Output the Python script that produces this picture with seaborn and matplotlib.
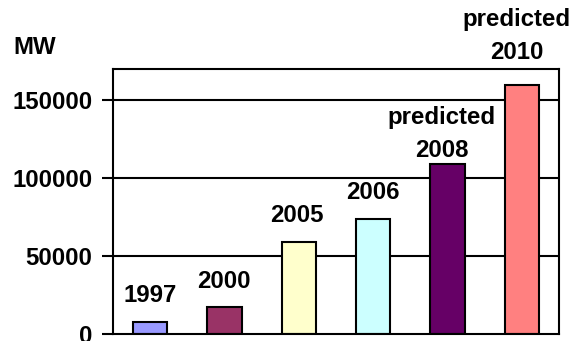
import matplotlib
matplotlib.use("Agg")
import matplotlib.pyplot as plt
import seaborn as sns
import pandas as pd

# Installed wind power capacity (MW)
years = ["1997", "2000", "2005", "2006", "2008", "2010"]
capacity_mw = [7500, 17500, 59000, 74000, 109000, 160000]
bar_labels = ["1997", "2000", "2005", "2006", "predicted\n2008", "predicted\n2010"]
bar_colors = ["#9999FF", "#993366", "#FFFFCC", "#CCFFFF", "#660066", "#FF8080"]
y_ticks = [0, 50000, 100000, 150000]

# label placement above each bar (pixels)
label_dx = [0, -0.5, -1.5, -0.5, -5.5, -5.5]
label_dy = [15, 14, 15, 15, 2, 21]

sns.set_theme(style="white")
plt.rcParams["font.family"] = ["Liberation Sans", "DejaVu Sans"]
plt.rcParams["font.weight"] = "bold"
plt.rcParams["text.color"] = "black"
plt.rcParams["ytick.color"] = "black"
plt.rcParams["ytick.labelcolor"] = "black"

FS = 17.3

df = pd.DataFrame({"year": years, "mw": capacity_mw})

fig = plt.figure(figsize=(5.73, 3.41), dpi=100)
ax = fig.add_axes([113 / 573, 7 / 341, 446 / 573, 265 / 341])

sns.barplot(data=df, x="year", y="mw", hue="year", palette=bar_colors,
            legend=False, width=0.46, edgecolor="black", linewidth=1.5,
            saturation=1, ax=ax)

ax.set_ylim(0, 170000)
ax.set_xlim(-0.5, len(years) - 0.5)
ax.set_yticks(y_ticks)
ax.set_yticklabels([str(v) for v in y_ticks], fontsize=FS, fontweight="bold",
                   color="black")
ax.set_xticks([])
ax.set_xlabel("")
ax.set_ylabel("")
ax.tick_params(axis="y", direction="out", length=8, width=1.5, pad=7,
               color="black", left=True)

for y in y_ticks[1:]:
    ax.axhline(y, color="black", linewidth=1.5, zorder=0.5)

for s in ax.spines.values():
    s.set_visible(True)
    s.set_color("black")
    s.set_linewidth(1.5)

for i, (lab, v) in enumerate(zip(bar_labels, capacity_mw)):
    ax.annotate(lab, xy=(i, v), xytext=(label_dx[i], label_dy[i]),
                textcoords="offset pixels", ha="center", va="bottom",
                fontsize=FS, fontweight="bold", linespacing=1.55,
                color="black", annotation_clip=False)

fig.text(13 / 573, 1 - 54 / 341, "MW", fontsize=FS, fontweight="bold",
         ha="left", va="baseline", color="black")

fig.savefig("out.png", dpi=100, facecolor="white")
